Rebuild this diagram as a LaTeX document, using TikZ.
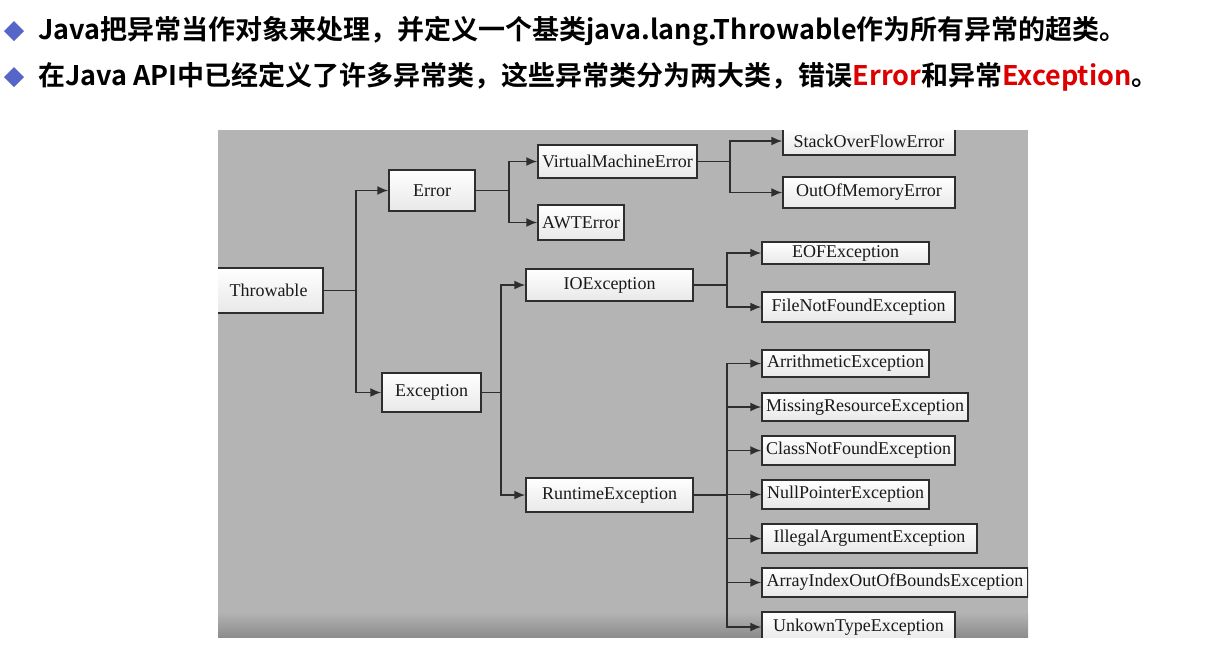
\documentclass[tikz,border=0pt]{standalone}
\usepackage{fontspec}
\setmainfont{Liberation Serif}
\newfontfamily\cjk{Noto Sans CJK SC}[BoldFont={Noto Sans CJK SC Bold}]
\usetikzlibrary{arrows.meta}
\definecolor{panelgray}{HTML}{B4B4B4}
\definecolor{panelshadow}{HTML}{8C8C8C}
\definecolor{linegray}{HTML}{2E2E2E}
\definecolor{bulletblue}{HTML}{5566C8}
\definecolor{hlred}{HTML}{DC0000}
\begin{document}
\begin{tikzpicture}[x=1pt,y=-1pt,
    cls/.style={draw=linegray, line width=1.4pt, top color=white, bottom color=gray!18,
        font=\fontsize{18}{20}\selectfont, text=black!90, inner sep=0pt},
    link/.style={draw=linegray, line width=1.8pt},
    arr/.style={link, -{Latex[length=11pt,width=9pt]}},
    headline/.style={anchor=west, inner sep=0pt, font=\cjk\bfseries\fontsize{27}{31}\selectfont}]
    \useasboundingbox (0,0) rectangle (1208,662);

    % Kopfzeilen
    \fill[bulletblue] (14,21) -- (24,31) -- (14,41) -- (4,31) -- cycle;
    \fill[bulletblue] (14,67) -- (24,77) -- (14,87) -- (4,77) -- cycle;
    \node[headline] (h1) at (38,31) {Java把异常当作对象来处理，并定义一个基类java.lang.Throwable作为所有异常的超类。};
    \node[headline] (h2) at (38,77) {在Java API中已经定义了许多异常类，这些异常类分为两大类，错误\textcolor{hlred}{Error}和异常\textcolor{hlred}{Exception}。};

    \begin{scope}
    \clip (218,130) rectangle (1028,637);
    % Hintergrund
    \fill[panelgray] (218,130) rectangle (1028,637);
    \shade[top color=panelgray, bottom color=panelshadow] (218,612) rectangle (1028,637);

    % Klassen
    \node[cls, minimum width=109, minimum height=45] (thr) at (268.5,290.5) {Throwable};
    \node[cls, minimum width=86, minimum height=41] (err) at (432,190.5) {Error};
    \node[cls, minimum width=99, minimum height=39] (exc) at (431.5,392.5) {Exception};
    \node[cls, minimum width=159, minimum height=33] (vme) at (617.5,161.5) {VirtualMachineError};
    \node[cls, minimum width=86, minimum height=35] (awt) at (581,222.5) {AWTError};
    \node[cls, minimum width=172, minimum height=28] (sof) at (869,141) {StackOverFlowError};
    \node[cls, minimum width=172, minimum height=31] (oom) at (869,192.5) {OutOfMemoryError};
    \node[cls, minimum width=167, minimum height=32] (ioe) at (609.5,285) {IOException};
    \node[cls, minimum width=167, minimum height=22] (eof) at (845.5,253) {EOFException};
    \node[cls, minimum width=193, minimum height=30] (fnf) at (858.5,307) {FileNotFoundException};
    \node[cls, minimum width=167, minimum height=34] (rte) at (609.5,495) {RuntimeException};
    \node[cls, minimum width=167, minimum height=27] (ari) at (845.5,363.5) {ArrithmeticException};
    \node[cls, minimum width=206, minimum height=28] (mre) at (865,407) {MissingResourceException};
    \node[cls, minimum width=193, minimum height=29] (cnf) at (858.5,450.5) {ClassNotFoundException};
    \node[cls, minimum width=167, minimum height=29] (npe) at (845.5,494.5) {NullPointerException};
    \node[cls, minimum width=215, minimum height=29] (iae) at (869.5,538.5) {IllegalArgumentException};
    \node[cls, minimum width=266, minimum height=29] (aio) at (895,582.5) {ArrayIndexOutOfBoundsException};
    \node[cls, minimum width=193, minimum height=30] (ute) at (858.5,627) {UnkownTypeException};

    % Vererbung
    \foreach \t in {err,exc} \draw[arr] (thr.east) -- ++(32,0) |- (\t.west);
    \foreach \t in {vme,awt} \draw[arr] (err.east) -- ++(33,0) |- (\t.west);
    \foreach \t in {sof,oom} \draw[arr] (vme.east) -- ++(32,0) |- (\t.west);
    \foreach \t in {ioe,rte} \draw[arr] (exc.east) -- ++(19,0) |- (\t.west);
    \foreach \t in {eof,fnf} \draw[arr] (ioe.east) -- ++(33,0) |- (\t.west);
    \foreach \t in {ari,mre,cnf,npe,iae,aio,ute} \draw[arr] (rte.east) -- ++(33,0) |- (\t.west);
    \end{scope}
\end{tikzpicture}
\end{document}
